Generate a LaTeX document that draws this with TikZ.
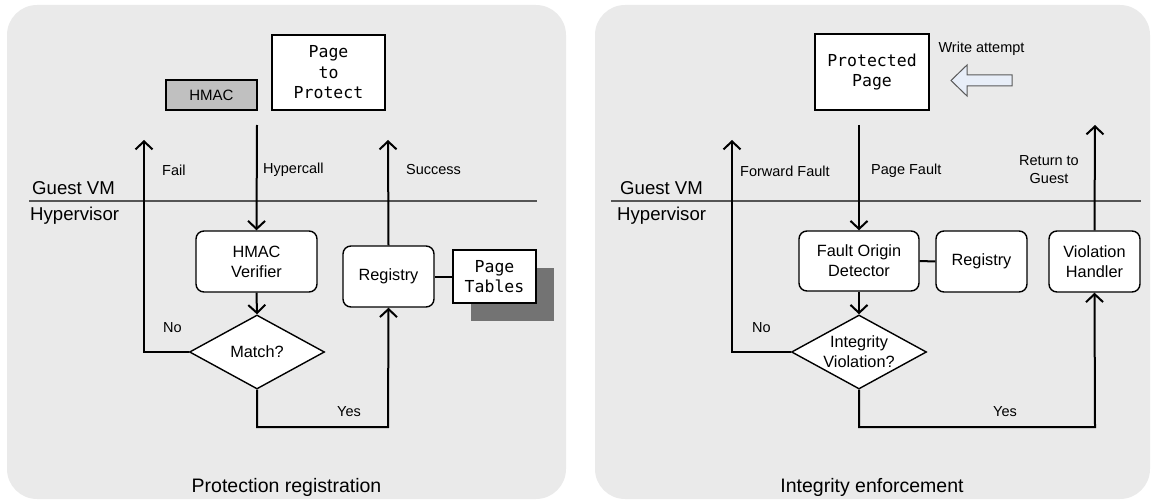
\documentclass[tikz,border=0pt]{standalone}
\usepackage{fontspec}
\setmainfont{Liberation Sans}
\newfontfamily\monof{DejaVu Sans Mono}
\usetikzlibrary{arrows.meta,shapes.geometric}
\definecolor{panelc}{HTML}{EAEAEA}
\definecolor{hmacc}{HTML}{C0C0C0}
\definecolor{shadowc}{HTML}{737373}
\definecolor{sepc}{HTML}{555555}
\definecolor{hollowc}{HTML}{E8EEF8}
\definecolor{hollowd}{HTML}{5A5A5A}
\begin{document}
\begin{tikzpicture}[x=1pt,y=-1pt,
  pbox/.style={draw=black, line width=1.4pt, fill=white, inner sep=0pt, align=center,
     font=\monof\fontsize{16.5}{20.5}\selectfont},
  rbox/.style={draw=black, line width=1.4pt, fill=white, rounded corners=8pt, inner sep=0pt,
     align=center, font=\fontsize{16.3}{20}\selectfont},
  dia/.style={diamond, draw=black, line width=1.4pt, fill=white, inner sep=0pt,
     minimum width=135pt, minimum height=74pt},
  dtext/.style={align=center, font=\fontsize{16.3}{20}\selectfont, inner sep=0pt},
  flow/.style={line width=2pt, -{Straight Barb[length=8pt,width=17pt]}},
  plain/.style={line width=2pt},
  lbl/.style={font=\fontsize{14.5}{18}\selectfont, inner sep=0pt},
  layer/.style={font=\fontsize{18.6}{22}\selectfont, inner sep=0pt, anchor=west},
  caption/.style={font=\fontsize{19.5}{23}\selectfont, inner sep=0pt},
  sep/.style={draw=sepc, line width=2.4pt}
]
\useasboundingbox (0,0) rectangle (1152,500);
% panels
\fill[panelc, rounded corners=30pt] (7,5) rectangle (566,499);
\fill[panelc, rounded corners=30pt] (595,5) rectangle (1150,499);

% ===== Left panel =====
\node[pbox, fill=hmacc, minimum width=91pt, minimum height=30pt,
      font=\fontsize{15}{17}\selectfont] (hmac) at (211.5,95) {HMAC};
\node[pbox, minimum width=113pt, minimum height=75pt] (ptp) at (328.5,72.5) {Page\\to\\Protect};
\draw[sep] (29,201) -- (537,201);
\node[layer] (gvm1) at (32,188) {Guest VM};
\node[layer] (hyp1) at (30,216) {Hypervisor};
\node[rbox, minimum width=121pt, minimum height=61pt] (ver) at (256.5,261.5) {HMAC\\Verifier};
\node[rbox, minimum width=91pt, minimum height=61pt] (reg1) at (388.5,276.5) {Registry};
\node[fill=shadowc, minimum width=83pt, minimum height=53pt, inner sep=0pt] (pts) at (512.5,294.5) {};
\node[pbox, minimum width=83pt, minimum height=53pt] (pt) at (494.5,276.5) {Page\\Tables};
\node[dia] (d1) at (257,352) {};
\node[dtext] (d1t) at (d1.center) {Match?};
\coordinate (hc1) at (257,125);
\coordinate (fail1) at (144,140);
\coordinate (succ1) at (388,140);
\draw[flow] (hc1) -- (ver.north);
\draw[flow] (ver.south) -- (d1.north);
\draw[flow] (d1.west) -- (144,352) -- (fail1);
\draw[flow] (d1.south) -- (257,427) -- (388,427) -- (reg1.south);
\draw[flow] (reg1.north) -- (succ1);
\draw[plain] (reg1.east) -- (pt.west);
\node[lbl, anchor=west] (failt) at (162,170) {Fail};
\node[lbl, anchor=west] (hct) at (263,170) {Hypercall};
\node[lbl, anchor=west] (succt) at (406,170) {Success};
\node[lbl, anchor=west] (no1) at (163,328) {No};
\node[lbl] (yes1) at (349,412) {Yes};
\node[caption] (cap1) at (286.5,487) {Protection registration};

% ===== Right panel =====
\node[pbox, minimum width=114pt, minimum height=76pt] (pp) at (872,72) {Protected\\Page};
\node[lbl] (wa) at (981.5,49) {Write attempt};
\draw[draw=hollowd, fill=hollowc, line width=1pt]
  (951,80.5) -- (967,65) -- (967,75) -- (1012,75) -- (1012,86) -- (967,86) -- (967,96) -- cycle;
\draw[sep] (611,201) -- (1141,201);
\node[layer] (gvm2) at (620,188) {Guest VM};
\node[layer] (hyp2) at (617,216) {Hypervisor};
\node[rbox, minimum width=120pt, minimum height=60pt] (fod) at (859,261) {Fault Origin\\Detector};
\node[rbox, minimum width=91pt, minimum height=61pt] (reg2) at (981.5,261.5) {Registry};
\node[rbox, minimum width=91pt, minimum height=61pt] (vh) at (1094.5,261.5) {Violation\\Handler};
\node[dia] (d2) at (859,352) {};
\node[dtext] (d2t) at (d2.center) {Integrity\\Violation?};
\coordinate (pf2) at (859,125);
\coordinate (ff2) at (732,140);
\coordinate (rg2) at (1095,125);
\draw[flow] (pf2) -- (fod.north);
\draw[flow] (fod.south) -- (d2.north);
\draw[flow] (d2.west) -- (732,352) -- (ff2);
\draw[flow] (d2.south) -- (859,427) -- (1095,427) -- (vh.south);
\draw[flow] (vh.north) -- (rg2);
\draw[plain] (fod.east) -- (reg2.west);
\node[lbl, anchor=west] (fft) at (740,171) {Forward Fault};
\node[lbl, anchor=west] (pft) at (871,171) {Page Fault};
\node[lbl, align=center] (rgt) at (1049,170) {Return to\\Guest};
\node[lbl, anchor=west] (no2) at (752,328) {No};
\node[lbl] (yes2) at (1005,412) {Yes};
\node[caption] (cap2) at (872,487) {Integrity enforcement};
\end{tikzpicture}
\end{document}
